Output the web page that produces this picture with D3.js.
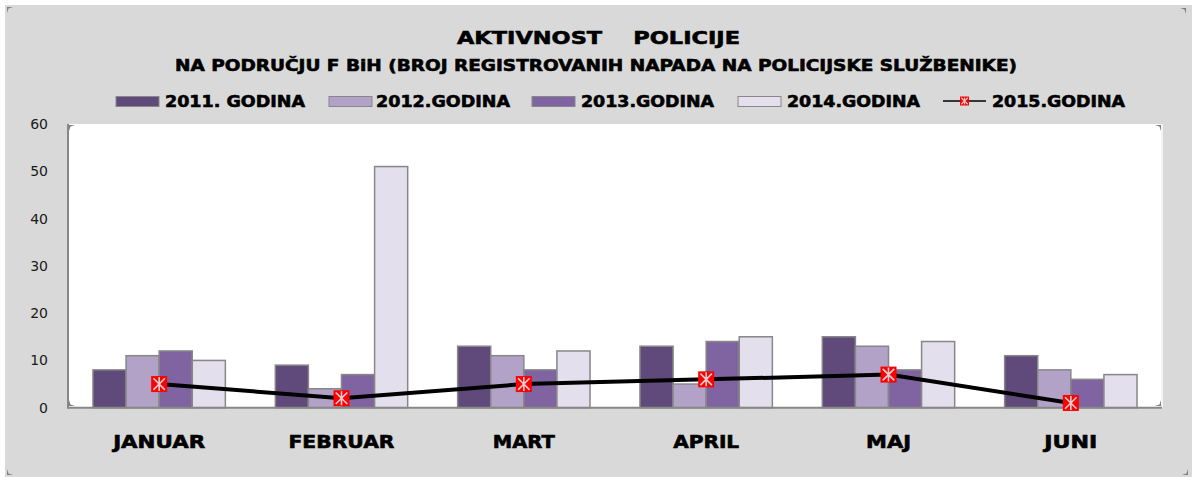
<!DOCTYPE html>
<html><head><meta charset="utf-8">
<script src="https://cdn.jsdelivr.net/npm/d3@7"></script>
<style>html,body{margin:0;padding:0;background:#fff;}svg{display:block;}
.heavy{stroke:#000;stroke-width:0.6px;paint-order:stroke;}</style>
</head><body>
<svg id="chart" width="1192" height="477"></svg>
<script>
const months = ["JANUAR","FEBRUAR","MART","APRIL","MAJ","JUNI"];
const barSeries = ["2011. GODINA","2012.GODINA","2013.GODINA","2014.GODINA"];
const lineSeriesName = "2015.GODINA";
const v2011 = [8, 9, 13, 13, 15, 11];
const v2012 = [11, 4, 11, 5, 13, 8];
const v2013 = [12, 7, 8, 14, 8, 6];
const v2014 = [10, 51, 12, 15, 14, 7];
const v2015 = [5, 2, 5, 6, 7, 1];
const yTicks = [0, 10, 20, 30, 40, 50, 60];
const barColors = ["#604a7b", "#b3a2c7", "#8064a2", "#e4dfec"];
const titleText = "AKTIVNOST    POLICIJE";
const subtitleText = "NA PODRUČJU F BiH (BROJ REGISTROVANIH NAPADA NA POLICIJSKE SLUŽBENIKE)";

const barData = [v2011, v2012, v2013, v2014];
const svg = d3.select("#chart");
const W = 1192, H = 477;
const plot = {l: 68, r: 1162, t: 124, b: 407.7};

// background
svg.append("rect").attr("x",5).attr("y",5).attr("width",W-5).attr("height",H-5).attr("fill","#d9d9d9");
svg.append("rect").attr("x",plot.l).attr("y",plot.t).attr("width",plot.r-plot.l).attr("height",plot.b-plot.t).attr("fill","#fff");
svg.append("line").attr("x1",plot.r).attr("x2",plot.r).attr("y1",plot.t).attr("y2",plot.b).attr("stroke","#f4f4f4").attr("stroke-width",2);

const x0 = d3.scaleBand().domain(months).range([plot.l, plot.r]).paddingInner(0.274).paddingOuter(0.137);
const x1 = d3.scaleBand().domain(d3.range(4)).range([0, x0.bandwidth()]);
const y = d3.scaleLinear().domain([0, 60]).range([plot.b, plot.t]);

const fit = (sel, w) => sel.attr("textLength", w).attr("lengthAdjust", "spacingAndGlyphs");

// y axis labels
svg.append("g").selectAll("text").data(yTicks).join("text")
  .attr("x", 48).attr("y", d => y(d)).attr("dy","0.36em")
  .attr("text-anchor","end").attr("font-family","DejaVu Sans").attr("font-size",14).attr("fill","#1a1a1a")
  .text(d => d);

// bars
const groups = svg.append("g").selectAll("g").data(months).join("g")
  .attr("transform", d => `translate(${x0(d)},0)`);
groups.selectAll("rect").data((m,i) => barData.map((s,k) => ({k, v: s[i]}))).join("rect")
  .attr("x", d => x1(d.k)).attr("width", x1.bandwidth())
  .attr("y", d => y(d.v)).attr("height", d => y(0) - y(d.v))
  .attr("fill", d => barColors[d.k]).attr("stroke","#878787").attr("stroke-width",1.5);

// axes lines
svg.append("line").attr("x1",plot.l).attr("x2",plot.l).attr("y1",plot.t).attr("y2",plot.b+1).attr("stroke","#878787").attr("stroke-width",2);
svg.append("line").attr("x1",plot.l).attr("x2",plot.r).attr("y1",plot.b).attr("y2",plot.b).attr("stroke","#878787").attr("stroke-width",2);

// line series
const cx = m => x0(m) + x0.bandwidth()/2;
svg.append("path").datum(v2015.map((v,i)=>[cx(months[i]), y(v)]))
  .attr("d", d3.line()).attr("fill","none").attr("stroke","#000").attr("stroke-width",4);

function marker(g, s) {
  const h = s/2;
  g.append("rect").attr("x",-h).attr("y",-h).attr("width",s).attr("height",s).attr("fill","#ff0000");
  const k = h*0.72;
  g.append("path").attr("d",`M${-k},${-k}L${k},${k}M${-k},${k}L${k},${-k}M0,${-h+1}L0,${h-1}`)
    .attr("stroke","#e0cfd2").attr("stroke-width", s>12?1.6:1.1).attr("fill","none");
}
svg.append("g").selectAll("g").data(v2015).join("g")
  .attr("transform",(d,i)=>`translate(${cx(months[i])},${y(d)})`)
  .each(function(){ marker(d3.select(this), 16); });

// x labels
const xLabW = {JANUAR: 92, FEBRUAR: 106, MART: 62, APRIL: 66, MAJ: 45, JUNI: 53};
svg.append("g").selectAll("text").data(months).join("text")
  .attr("class","heavy")
  .attr("x", d => cx(d)).attr("y", 447.5).attr("text-anchor","middle")
  .attr("font-family","DejaVu Sans").attr("font-weight","bold").attr("font-size",17.5).attr("fill","#000")
  .text(d => d).each(function(d){ fit(d3.select(this), xLabW[d]); });

// title
fit(svg.append("text").attr("class","heavy").attr("x",598.5).attr("y",43.5).attr("text-anchor","middle")
  .attr("font-family","DejaVu Sans").attr("font-weight","bold").attr("font-size",18.5)
  .style("white-space","pre").text(titleText), 283);
fit(svg.append("text").attr("class","heavy").attr("x",596).attr("y",71).attr("text-anchor","middle")
  .attr("font-family","DejaVu Sans").attr("font-weight","bold").attr("font-size",16)
  .text(subtitleText), 842);

// legend
const legItems = [
  {sx:116, tx:165, tw:140},
  {sx:329, tx:376, tw:134},
  {sx:532, tx:581, tw:133},
  {sx:738, tx:787, tw:133}
];
const leg = svg.append("g");
barSeries.forEach((name,k) => {
  const it = legItems[k];
  leg.append("rect").attr("x",it.sx).attr("y",96.5).attr("width",43).attr("height",10)
    .attr("fill",barColors[k]).attr("stroke","#878787").attr("stroke-width",1);
  fit(leg.append("text").attr("class","heavy").attr("x",it.tx).attr("y",107).attr("font-family","DejaVu Sans")
    .attr("font-weight","bold").attr("font-size",16).text(name), it.tw);
});
leg.append("line").attr("x1",943).attr("x2",986).attr("y1",101).attr("y2",101).attr("stroke","#000").attr("stroke-width",1.5);
marker(leg.append("g").attr("transform","translate(964.5,101)"), 9);
fit(leg.append("text").attr("class","heavy").attr("x",992).attr("y",107).attr("font-family","DejaVu Sans")
  .attr("font-weight","bold").attr("font-size",16).text(lineSeriesName), 133);

// corner handles
function corner(xp, yp, dx, dy) {
  svg.append("path").attr("d",`M${xp},${yp}L${xp+dx*6},${yp}L${xp+dx*1.5},${yp+dy*1.5}L${xp},${yp+dy*6}Z`)
    .attr("fill","#7f7f7f");
}
corner(7,7,1,1); corner(1186,8,-1,1); corner(7,475,1,-1); corner(1188,475,-1,-1);
corner(69,125,1,1); corner(1161,125,-1,1); corner(69,406,1,-1); corner(1161,406,-1,-1);
</script>
</body></html>
